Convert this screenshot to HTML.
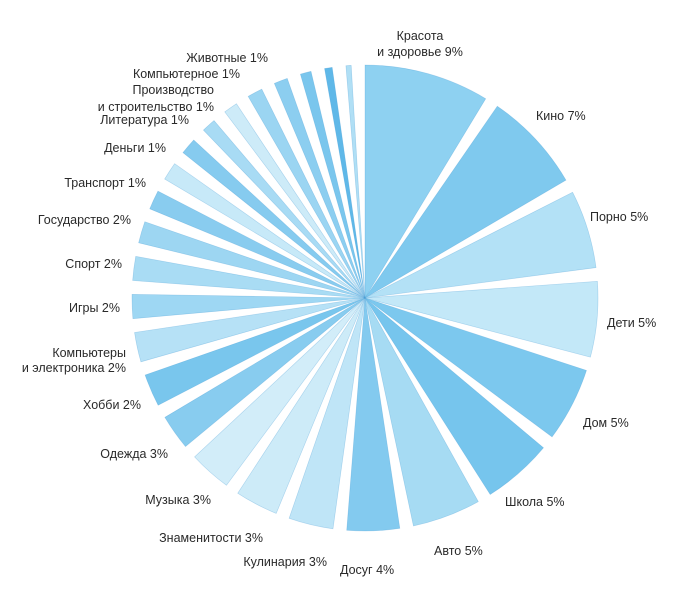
<!DOCTYPE html>
<html><head><meta charset="utf-8"><style>
html,body{margin:0;padding:0;background:#fff;}
svg{display:block;font-family:"Liberation Sans","Noto Sans CJK JP",sans-serif;}
text{font-size:12.5px;fill:#2a2a2a;}
</style></head><body>
<svg id="chart" width="697" height="605">
<g id="slices"></g>
<g id="labels">
<text x="420" y="40" text-anchor="middle">Красота</text>
<text x="420" y="56" text-anchor="middle">и здоровье 9%</text>
<text x="536" y="120">Кино 7%</text>
<text x="590" y="221">Порно 5%</text>
<text x="607" y="327">Дети 5%</text>
<text x="583" y="427">Дом 5%</text>
<text x="505" y="506">Школа 5%</text>
<text x="434" y="555">Авто 5%</text>
<text x="340" y="574">Досуг 4%</text>
<text x="327" y="566" text-anchor="end">Кулинария 3%</text>
<text x="263" y="542" text-anchor="end">Знаменитости 3%</text>
<text x="211" y="504" text-anchor="end">Музыка 3%</text>
<text x="168" y="458" text-anchor="end">Одежда 3%</text>
<text x="141" y="409" text-anchor="end">Хобби 2%</text>
<text x="126" y="357" text-anchor="end">Компьютеры</text>
<text x="126" y="372" text-anchor="end">и электроника 2%</text>
<text x="120" y="312" text-anchor="end">Игры 2%</text>
<text x="122" y="268" text-anchor="end">Спорт 2%</text>
<text x="131" y="224" text-anchor="end">Государство 2%</text>
<text x="146" y="187" text-anchor="end">Транспорт 1%</text>
<text x="166" y="152" text-anchor="end">Деньги 1%</text>
<text x="189" y="124" text-anchor="end">Литература 1%</text>
<text x="214" y="94" text-anchor="end">Производство</text>
<text x="214" y="111" text-anchor="end">и строительство 1%</text>
<text x="240" y="78" text-anchor="end">Компьютерное 1%</text>
<text x="268" y="62" text-anchor="end">Животные 1%</text>
</g>
</svg>
<script>
const categories = ["Красота и здоровье","Кино","Порно","Дети","Дом","Школа","Авто","Досуг","Кулинария","Знаменитости","Музыка","Одежда","Хобби","Компьютеры и электроника","Игры","Спорт","Государство","Транспорт","Деньги","Литература","Производство и строительство","Компьютерное","Животные","Другое 1","Другое 2","Другое 3","Другое 4"];
const values = [34.6,28.4,22.9,22.2,21.9,20.9,20.5,16.5,14.5,14.1,13.9,12.2,11.5,10.8,9.4,9.4,8.8,8.2,7.9,7.5,6.9,6.9,7.2,6.8,6.1,5.3,4.7];
const colors = ["#8ed1f1","#7fc9ee","#b3e1f6","#c3e8f8","#7cc8ee","#76c5ed","#a6dbf3","#83caef","#bfe5f7","#cdebf8","#d2edf9","#88ccef","#79c6ed","#b6e1f6","#9ed7f3","#a9dcf4","#9dd6f2","#89ccef","#c7e9f8","#86cbef","#a8dbf4","#cdebf8","#9bd5f2","#8ccef0","#7ac6ed","#5fb8e8","#b0dff5"];
const cx = 365, cy = 298, R = 233, pad = 3.4, start = -1.7;
const total = values.reduce((a,b)=>a+b,0);
const g = document.getElementById('slices');
function pt(deg, r){ const a = deg*Math.PI/180; return [cx + r*Math.sin(a), cy - r*Math.cos(a)]; }
let acc = start;
values.forEach((v,i)=>{
  const span = v/total*360;
  const a0 = acc + pad/2, a1 = acc + span - pad/2;
  acc += span;
  if (a1 <= a0) return;
  const p0 = pt(a0,R), p1 = pt(a1,R);
  const large = (a1-a0) > 180 ? 1 : 0;
  const p = document.createElementNS('http://www.w3.org/2000/svg','path');
  p.setAttribute('d', `M${cx},${cy}L${p0[0].toFixed(2)},${p0[1].toFixed(2)}A${R},${R} 0 ${large} 1 ${p1[0].toFixed(2)},${p1[1].toFixed(2)}Z`);
  p.setAttribute('fill', colors[i % colors.length]);
  p.setAttribute('stroke', 'rgba(60,150,210,0.35)');
  p.setAttribute('stroke-width', '0.6');
  
  
  const t = document.createElementNS('http://www.w3.org/2000/svg','title');
  t.textContent = categories[i];
  p.appendChild(t);
  g.appendChild(p);
});
</script>
</body></html>
